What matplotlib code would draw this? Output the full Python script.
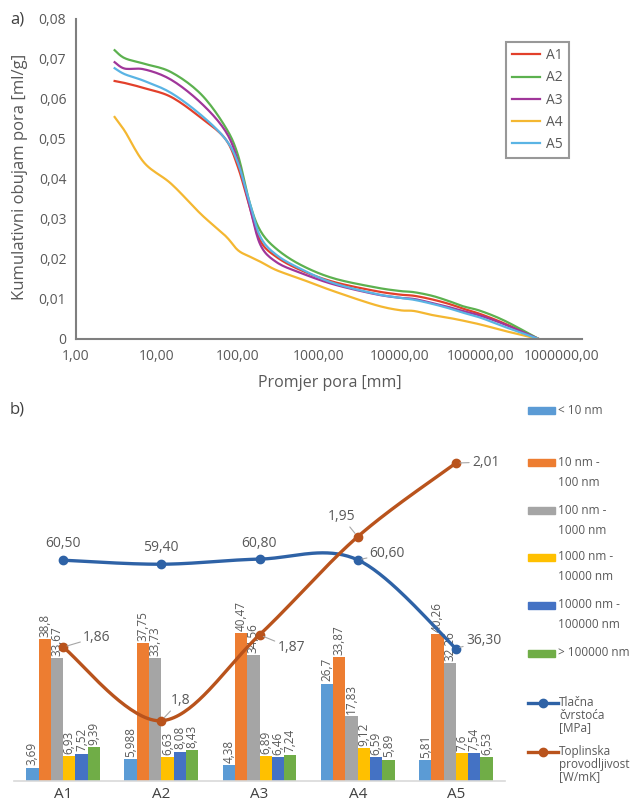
import numpy as np
import matplotlib
matplotlib.use("Agg")
import matplotlib.pyplot as plt
from matplotlib.patches import Rectangle
from matplotlib.lines import Line2D

plt.rcParams['font.family'] = ['Open Sans', 'DejaVu Sans']

# ---------------- data: panel a) ----------------
pore_diam = [3, 4, 7, 15, 35, 70, 100, 140, 190, 300, 600, 1500, 5000, 10000,
             15000, 25000, 40000, 60000, 100000, 200000, 520000]
vol_A1 = [0.0645, 0.0640, 0.0627, 0.0605, 0.0553, 0.0500, 0.0430, 0.0330, 0.0245, 0.0205,
          0.0172, 0.0143, 0.0120, 0.0111, 0.0108, 0.0099, 0.0088, 0.0076, 0.0062, 0.0038, 0.0]
vol_A2 = [0.0722, 0.0702, 0.0688, 0.0667, 0.0612, 0.0530, 0.0460, 0.0340, 0.0270, 0.0225,
          0.0185, 0.0152, 0.0129, 0.0120, 0.0117, 0.0108, 0.0095, 0.0082, 0.0070, 0.0045, 0.0]
vol_A3 = [0.0692, 0.0676, 0.0674, 0.0648, 0.0590, 0.0520, 0.0445, 0.0330, 0.0235, 0.0192,
          0.0165, 0.0137, 0.0112, 0.0103, 0.0100, 0.0090, 0.0080, 0.0070, 0.0058, 0.0036, 0.0]
vol_A4 = [0.0555, 0.0520, 0.0440, 0.0388, 0.0312, 0.0258, 0.0222, 0.0206, 0.0193, 0.0172,
          0.0150, 0.0120, 0.0085, 0.0072, 0.0070, 0.0060, 0.0053, 0.0046, 0.0036, 0.0020, 0.0]
vol_A5 = [0.0677, 0.0662, 0.0645, 0.0615, 0.0560, 0.0500, 0.0440, 0.0340, 0.0255, 0.0210,
          0.0175, 0.0140, 0.0113, 0.0103, 0.0098, 0.0088, 0.0077, 0.0066, 0.0053, 0.0030, 0.0]
series_a_names = ['A1', 'A2', 'A3', 'A4', 'A5']
x_ticks_a = [1, 10, 100, 1000, 10000, 100000, 1000000]
x_ticklabels_a = ['1,00', '10,00', '100,00', '1000,00', '10000,00', '100000,00', '1000000,00']
y_ticks_a = [0, 0.01, 0.02, 0.03, 0.04, 0.05, 0.06, 0.07, 0.08]
y_ticklabels_a = ['0', '0,01', '0,02', '0,03', '0,04', '0,05', '0,06', '0,07', '0,08']

# ---------------- data: panel b) ----------------
samples = ['A1', 'A2', 'A3', 'A4', 'A5']
bins = ['< 10 nm', '10 nm -\n100 nm', '100 nm -\n1000 nm', '1000 nm -\n10000 nm',
        '10000 nm -\n100000 nm', '> 100000 nm']
pct_lt10 = [3.69, 5.988, 4.38, 26.7, 5.81]
pct_10_100 = [38.8, 37.75, 40.47, 33.87, 40.26]
pct_100_1000 = [33.67, 33.73, 34.56, 17.83, 32.26]
pct_1000_10000 = [6.93, 6.63, 6.89, 9.12, 7.6]
pct_10000_100000 = [7.52, 8.08, 6.46, 6.59, 7.54]
pct_gt100000 = [9.39, 8.43, 7.24, 5.89, 6.53]
strength = [60.50, 59.40, 60.80, 60.60, 36.30]
conductivity = [1.86, 1.8, 1.87, 1.95, 2.01]
strength_label = 'Tlačna\nčvrstoća\n[MPa]'
conductivity_label = 'Toplinska\nprovodljivost\n[W/mK]'

# ---------------- helpers ----------------
def catmull(xs, ys, n=40):
    P = np.column_stack([xs, ys]).astype(float)
    P = np.vstack([P[0], P, P[-1]])
    out = []
    t = np.linspace(0, 1, n)[:, None]
    for i in range(1, len(P) - 2):
        p0, p1, p2, p3 = P[i - 1], P[i], P[i + 1], P[i + 2]
        seg = 0.5 * ((2 * p1) + (-p0 + p2) * t + (2 * p0 - 5 * p1 + 4 * p2 - p3) * t ** 2
                     + (-p0 + 3 * p1 - 3 * p2 + p3) * t ** 3)
        out.append(seg if i == 1 else seg[1:])
    return np.vstack(out)

def fmt(v):
    return str(v).replace('.', ',')

W, H = 636, 801
fig = plt.figure(figsize=(W / 100, H / 100), dpi=100)

def fx(px):
    return px / W

def fy(py):
    return 1 - py / H

tick_col = '#595959'

# ---------------- panel a ----------------
axa = fig.add_axes([fx(76), fy(339), fx(582 - 76), (339 - 19) / H])
cols_a = ['#E2402B', '#5CB14F', '#A0369A', '#F4B731', '#5AB4E4']
for name, vals, c in zip(series_a_names, [vol_A1, vol_A2, vol_A3, vol_A4, vol_A5], cols_a):
    sm = catmull(np.log10(pore_diam), vals, n=12)
    axa.plot(10 ** sm[:, 0], sm[:, 1], color=c, lw=1.6, label=name)
axa.set_xscale('log')
axa.set_xlim(1, 10 ** 6.25)
axa.set_ylim(0, 0.08)
axa.set_xticks(x_ticks_a)
axa.set_xticklabels(x_ticklabels_a)
axa.minorticks_off()
axa.set_yticks(y_ticks_a)
axa.set_yticklabels(y_ticklabels_a)
axa.tick_params(length=0, labelsize=10, colors=tick_col, pad=7)
for s in ['top', 'right']:
    axa.spines[s].set_visible(False)
for s in ['left', 'bottom']:
    axa.spines[s].set_color('#7F7F7F')
    axa.spines[s].set_linewidth(1.5)
leg = axa.legend(loc='upper left', bbox_to_anchor=(fx(506), fy(42)), bbox_transform=fig.transFigure,
                 borderaxespad=0, fancybox=False, frameon=True, fontsize=10, handlelength=2.0,
                 handletextpad=0.4, labelspacing=0.52, borderpad=0.45, labelcolor=tick_col)
leg.get_frame().set_edgecolor('#7F7F7F')
leg.get_frame().set_linewidth(1.5)
fig.text(fx(20), fy(177), 'Kumulativni obujam pora [ml/g]', rotation=90, ha='center', va='center',
         fontsize=12, color=tick_col)
fig.text(fx(330), fy(383), 'Promjer pora [mm]', ha='center', va='center', fontsize=11.5, color=tick_col)
fig.text(fx(10), fy(19), 'a)', ha='left', va='center', fontsize=12, color='#404040')

# ---------------- panel b ----------------
axb = fig.add_axes([fx(14), fy(781), fx(505 - 14), (781 - 400) / H])
axb2 = axb.twinx()
bar_cols = ['#5B9BD5', '#ED7D31', '#A5A5A5', '#FFC000', '#4472C4', '#70AD47']
groups = [pct_lt10, pct_10_100, pct_100_1000, pct_1000_10000, pct_10000_100000, pct_gt100000]
xpos = np.arange(len(samples))
bw = 0.125
for k, (vals, c) in enumerate(zip(groups, bar_cols)):
    xs = xpos + (k - 2.5) * bw
    axb.bar(xs, vals, width=bw, color=c, zorder=2)
    for x, v in zip(xs, vals):
        axb.text(x, v + 0.6, fmt(v), rotation=90, ha='center', va='bottom', fontsize=8.5,
                 color=tick_col, zorder=3)

blue_c = '#2E62A6'
orng_c = '#B9531C'
sm = catmull(xpos, strength)
axb.plot(sm[:, 0], sm[:, 1], color=blue_c, lw=2.4, zorder=4)
axb.plot(xpos, strength, 'o', color=blue_c, ms=6, zorder=5)
sm2 = catmull(xpos, conductivity)
axb2.plot(sm2[:, 0], sm2[:, 1], color=orng_c, lw=2.4, zorder=4)
axb2.plot(xpos, conductivity, 'o', color=orng_c, ms=6, zorder=5)

axb.set_xlim(-0.5, len(samples) - 0.5)
axb.set_ylim(0, 104.4)
axb2.set_ylim(1.7509, 2.0614)
for a in (axb, axb2):
    for s in ['top', 'right', 'left']:
        a.spines[s].set_visible(False)
    a.set_yticks([])
axb2.spines['bottom'].set_visible(False)
axb.spines['bottom'].set_color('#D9D9D9')
axb.spines['bottom'].set_linewidth(1.2)
axb.set_xticks(xpos)
axb.set_xticklabels(samples)
axb.tick_params(axis='x', length=0, labelsize=11, colors='#404040', pad=4)

lab_kw = dict(fontsize=10, color=tick_col, textcoords='offset pixels', zorder=6)
leader = dict(arrowstyle='-', color='#A6A6A6', lw=0.8, shrinkA=0, shrinkB=3)
# strength labels (offsets in pixels)
s_offsets = [(0, 17, 'center', None), (0, 17, 'center', None), (0, 16, 'center', None),
             (12, 6, 'left', leader), (10, 8, 'left', leader)]
for x, v, (dx, dy, ha, ap) in zip(xpos, strength, s_offsets):
    axb.annotate(f'{v:.2f}'.replace('.', ','), (x, v), xytext=(dx, dy), ha=ha, va='center',
                 arrowprops=ap, **lab_kw)
c_offsets = [(20, 10, 'left', leader), (9, 20, 'left', leader), (18, -13, 'left', leader),
             (-30, 20, 'left', leader), (16, 1, 'left', leader)]
for x, v, (dx, dy, ha, ap) in zip(xpos, conductivity, c_offsets):
    axb2.annotate(fmt(v), (x, v), xytext=(dx, dy), ha=ha, va='center', arrowprops=ap, **lab_kw)

fig.text(fx(10), fy(410), 'b)', ha='left', va='center', fontsize=12, color='#404040')

# manual legend for panel b
entry_y = [410, 462, 510, 557, 605, 653]
for lab, c, y0 in zip(bins, bar_cols, entry_y):
    fig.patches.append(Rectangle((fx(528), fy(y0 + 3.5)), fx(27), 7 / H, transform=fig.transFigure,
                                 color=c, figure=fig))
    for j, line in enumerate(lab.split('\n')):
        fig.text(fx(558), fy(y0 + 20 * j), line, ha='left', va='center', fontsize=8.5, color=tick_col)
for lab, c, y0 in zip([strength_label, conductivity_label], [blue_c, orng_c], [703, 752]):
    fig.lines.append(Line2D([fx(528), fx(558)], [fy(y0), fy(y0)], transform=fig.transFigure,
                            color=c, lw=2.4, figure=fig))
    fig.lines.append(Line2D([fx(543)], [fy(y0)], transform=fig.transFigure, marker='o', ms=6,
                            color=c, figure=fig))
    for j, line in enumerate(lab.split('\n')):
        fig.text(fx(559), fy(y0 + 12.3 * j), line, ha='left', va='center', fontsize=8.5,
                 color=tick_col)

fig.savefig('out.png', dpi=100)
